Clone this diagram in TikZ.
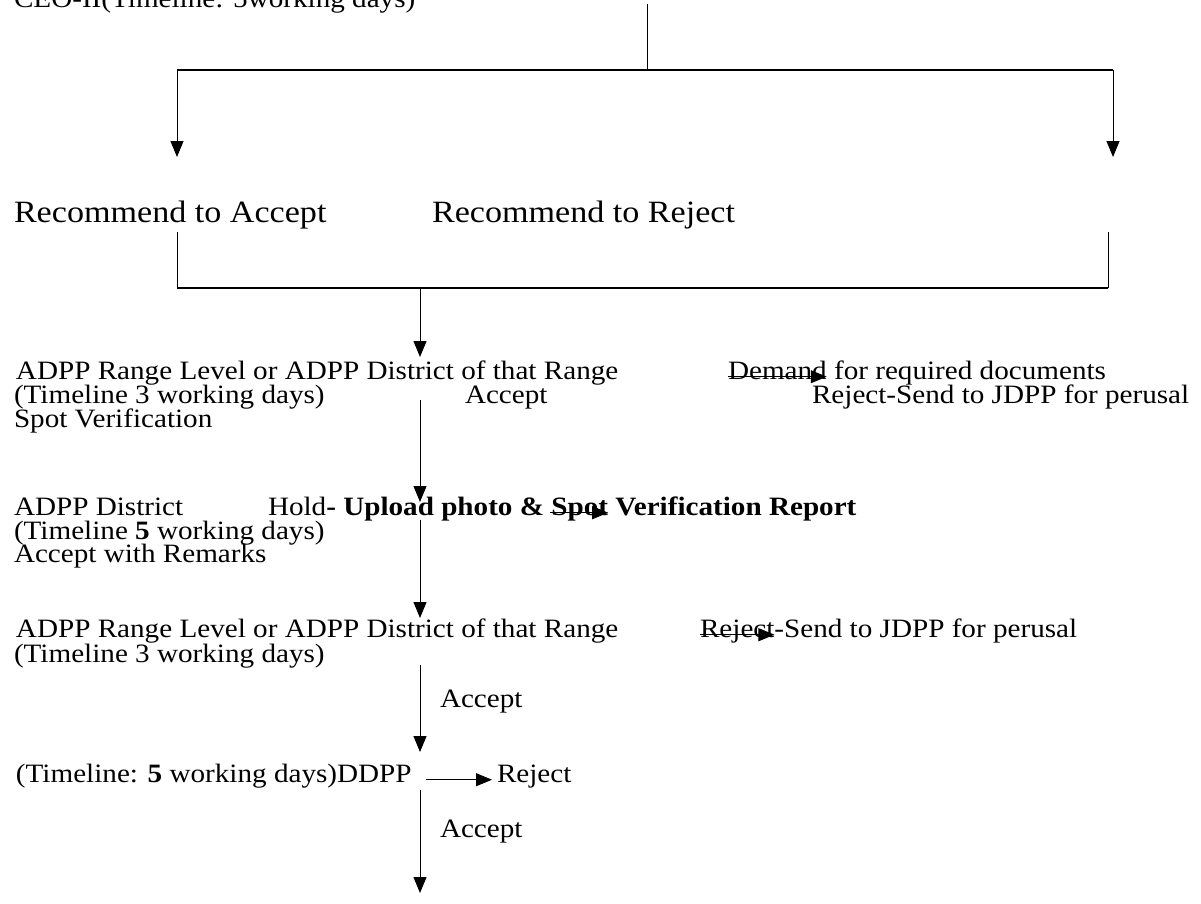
\documentclass[tikz,border=0pt]{standalone}
\usepackage{fontspec}
\setmainfont{Liberation Serif}[FakeStretch=1.1]
\usetikzlibrary{arrows.meta}

\begin{document}
\begin{tikzpicture}[x=1pt,y=-1pt]

\tikzset{txt/.style = {anchor=base west,inner sep=0pt,outer sep=0pt,font=\fontsize{26.5}{30}\selectfont}}
\tikzset{bigtxt/.style = {txt,font=\fontsize{31}{36}\selectfont}}
\tikzset{edge/.style = {-{Triangle[width=13pt,length=16pt]},line width=1pt}}
\tikzset{bar/.style = {line width=1.6pt}}
\useasboundingbox (0,0) rectangle (1201,903);
\clip (0,0) rectangle (1201,903);

%top
\node[txt] (ceo) at (14,7) {CEO-II(Timeline: 5working days)};
\coordinate (t0) at (647,4);
\coordinate (t1) at (647,70);
\coordinate (tl) at (177,70);
\coordinate (tr) at (1113,70);
\coordinate (al) at (177,157);
\coordinate (ar) at (1113,157);
\draw[line width=1pt] (t0) -- (t1);
\draw[bar] (tl) -- (tr);
\draw[edge] (tl) -- (al);
\draw[edge] (tr) -- (ar);

%recommend
\node[bigtxt] (acc) at (14,222) {Recommend to Accept};
\node[bigtxt] (rej) at (432,222) {Recommend to Reject};
\coordinate (bl0) at (177,232);
\coordinate (bl1) at (177,288);
\coordinate (br0) at (1108,232);
\coordinate (br1) at (1108,288);
\draw[line width=1pt] (bl0) -- (bl1);
\draw[line width=1pt] (br0) -- (br1);
\draw[bar] (bl1) -- (br1);
\coordinate (m1) at (420,288);
\coordinate (m2) at (420,357);
\draw[edge] (m1) -- (m2);

%range level
\node[txt] (r1) at (16,379) {ADPP Range Level or ADPP District of that Range};
\node[txt] (dem) at (728,379) {Demand};
\node[txt] (docs) at (dem.base east) {\ for required documents};
\node[txt] (t1a) at (14,403) {(Timeline 3 working days)};
\node[txt] (acc1) at (465,403) {Accept};
\node[txt] (rs1) at (812,403) {Reject-Send to JDPP for perusal};
\node[txt] (spot) at (14,427) {Spot Verification};
\draw[edge] (dem.mid west) -- (docs.mid west);
\coordinate (m3) at (420,400);
\coordinate (m4) at (420,502);
\draw[edge] (m3) -- (m4);

%district
\node[txt] (dist) at (14,515) {ADPP District};
\node[txt] (hold) at (268,515) {Hold\textbf{- Upload photo \&}};
\node[txt] (sp) at (hold.base east) {\textbf{\ Spot}};
\node[txt] (ver) at (sp.base east) {\textbf{\ Verification Report}};
\node[txt] (t2) at (14,539) {(Timeline \textbf{5} working days)};
\node[txt] (rem) at (14,562) {Accept with Remarks};
\draw[edge] ([xshift=6pt]sp.mid west) -- (ver.mid west);
\coordinate (m5) at (420,520);
\coordinate (m6) at (420,618);
\draw[edge] (m5) -- (m6);

%range level again
\node[txt] (r3) at (16,637) {ADPP Range Level or ADPP District of that Range};
\node[txt] (rj3) at (700,637) {Reject};
\node[txt] (send3) at (rj3.base east) {-Send to JDPP for perusal};
\node[txt] (t3) at (14,662) {(Timeline 3 working days)};
\node[txt] (acc3) at (440,707) {Accept};
\draw[edge] (rj3.mid west) -- (rj3.mid east);
\coordinate (m7) at (420,665);
\coordinate (m8) at (420,752);
\draw[edge] (m7) -- (m8);

%ddpp
\node[txt] (ddpp) at (16,782) {(Timeline: \textbf{5} working days)DDPP};
\node[txt] (rej4) at (497,782) {Reject};
\node[txt] (acc4) at (440,837) {Accept};
\draw[edge] ([xshift=14pt]ddpp.mid east) -- ([xshift=-5pt]rej4.mid west);
\coordinate (m9) at (420,790);
\coordinate (m10) at (420,893);
\draw[edge] (m9) -- (m10);

\end{tikzpicture}
\end{document}
